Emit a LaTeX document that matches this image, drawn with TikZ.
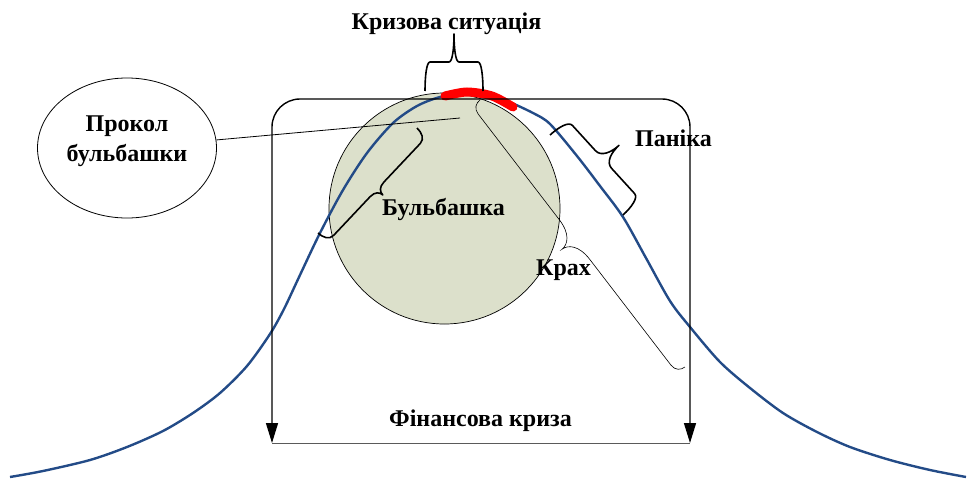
\documentclass[tikz,border=0pt]{standalone}
\usepackage{fontspec}
\setmainfont{Liberation Serif}
\usetikzlibrary{arrows.meta,shapes.geometric}
\definecolor{curveblue}{RGB}{35,75,135}
\definecolor{bubblefill}{RGB}{220,224,203}
\definecolor{basegray}{RGB}{90,90,90}
\tikzset{
  lbl/.style={font=\bfseries\fontsize{24}{30}\selectfont, inner sep=0pt, anchor=base},
  bracethick/.style={line width=1.6pt, line join=round},
  bracethin/.style={line width=0.6pt},
  frame/.style={line width=1.4pt, rounded corners=28pt, {Triangle[length=20pt,width=12pt]}-{Triangle[length=20pt,width=12pt]}},
}
% #1 style, #2 x1, #3 y1, #4 x2, #5 y2, #6 body offset, #7 tip height, #8 end curl, #9 tip curl
\newcommand{\Brc}[9]{%
  \pgfmathsetmacro\bL{veclen(#4-#2,#5-#3)}%
  \pgfmathsetmacro\bA{atan2(-(#5-#3),#4-#2)}%
  \pgfmathsetmacro\bM{\bL/2}%
  \begin{scope}[shift={(#2,#3)},rotate=\bA]
    \draw[#1] (0,0) .. controls (0,{0.5*#6}) and ({0.3*#8},#6) .. (#8,#6)
      -- ({\bM-#9},#6) .. controls ({\bM-0.3*#9},#6) and (\bM,{#6+0.5*#7}) .. (\bM,{#6+#7})
      .. controls (\bM,{#6+0.5*#7}) and ({\bM+0.3*#9},#6) .. ({\bM+#9},#6)
      -- ({\bL-#8},#6) .. controls ({\bL-0.3*#8},#6) and (\bL,{0.5*#6}) .. (\bL,0);
  \end{scope}}
\begin{document}
\begin{tikzpicture}[x=1pt,y=-1pt]
\useasboundingbox (0,0) rectangle (969,482);
% bubble
\node[circle, draw, line width=0.7pt, fill=bubblefill, minimum size=231pt, inner sep=0pt] (bubble) at (444.5,208.5) {};
% bell curve
\draw[curveblue, line width=2.4pt] plot[smooth, tension=0.5] coordinates {
 (10,477) (43,471) (90,460) (127,447) (163,431) (193,413) (220,393) (247,366)
 (270,334) (284,309) (300,275) (320,233) (343,190) (367,153) (393,123) (417,106)
 (440,97) (465,93) (490,96) (507,101) (533,113) (550,124) (577,156) (600,186)
 (623,217) (646,258) (670,301) (690,327) (720,362) (750,388) (783,413) (817,432)
 (850,447) (890,460) (930,470) (966,477)};
% red crisis arc
\draw[red, line width=9pt, line cap=round] plot[smooth] coordinates {(445,96) (467,92) (492,96) (513,107)};
% frame
\coordinate (fl) at (272,443);
\coordinate (fr) at (690,443);
\draw[frame] (fl) -- (272,99) -- (690,99) -- (fr);
\draw[basegray, line width=1pt] (fl) -- (fr);
% ellipse
\node[ellipse, draw, line width=0.8pt, minimum width=179pt, minimum height=140pt, inner sep=0pt] (prokol) at (127,148) {};
\node[lbl] (prokoltxt) at (127,131.5) {Прокол};
\node[lbl] (prokoltxt2) at (127,161.5) {бульбашки};
\coordinate (pin) at (460,118);
\draw[line width=0.8pt] (prokol) -- (pin);
% braces
\Brc{bracethick}{483}{91}{425}{91}{29}{28}{5}{5}
\Brc{bracethick}{318}{233}{417}{128}{13}{8}{9}{10}
\Brc{bracethick}{623}{215}{550}{135}{23}{21}{8}{12}
\Brc{bracethin}{480}{100}{685}{367}{10}{16}{10}{25}
% labels
\node[lbl] (krizova) at (446.5,29.5) {Кризова ситуація};
\node[lbl] (bulb) at (443.5,215) {Бульбашка};
\node[lbl] (panika) at (673.5,146.5) {Паніка};
\node[lbl] (krakh) at (563.5,275) {Крах};
\node[lbl] (finkryza) at (480.5,426.5) {Фінансова криза};
\end{tikzpicture}
\end{document}
